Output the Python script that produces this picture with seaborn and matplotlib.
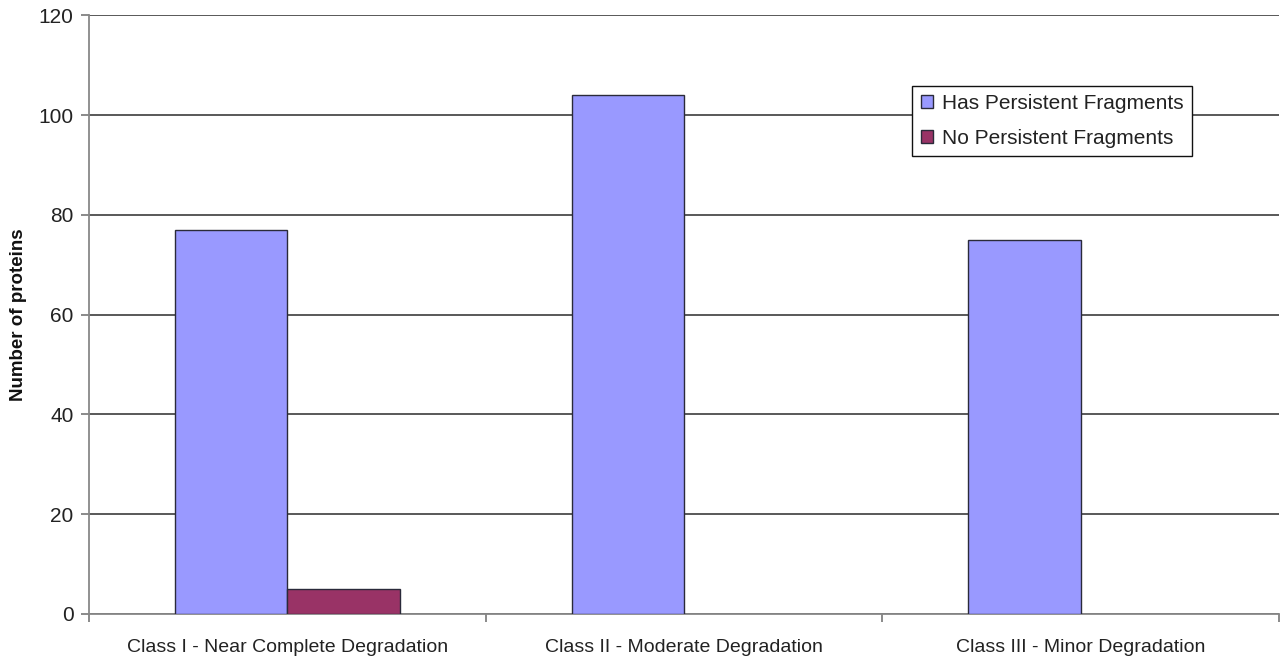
import matplotlib
matplotlib.use("Agg")
import matplotlib.pyplot as plt
from matplotlib.patches import Patch
import seaborn as sns
import pandas as pd

# Protein counts per degradation class
categories = ["Class I - Near Complete Degradation",
              "Class II - Moderate Degradation",
              "Class III - Minor Degradation"]
has_fragments = [77, 104, 75]
no_fragments = [5, 0, 0]
series_names = ["Has Persistent Fragments", "No Persistent Fragments"]
series_colors = ["#9999FF", "#993366"]
y_ticks = [0, 20, 40, 60, 80, 100, 120]

df = pd.DataFrame({
    "category": categories * 2,
    "count": has_fragments + no_fragments,
    "series": [series_names[0]] * 3 + [series_names[1]] * 3,
})

sns.set_style("white")
plt.rcParams["font.family"] = ["Liberation Sans", "DejaVu Sans"]

fig = plt.figure(figsize=(12.8, 6.63), dpi=100)
ax = fig.add_axes([0.0695, 0.074, 0.9297, 0.903])

edge = "#2a2a3a"
sns.barplot(data=df, x="category", y="count", hue="series",
            order=categories, hue_order=series_names,
            palette=series_colors, width=0.567,
            edgecolor=edge, linewidth=1.0, saturation=1,
            errorbar=None, ax=ax, zorder=3, legend=False)

# hide empty bars so no outline sits on the baseline
for p in ax.patches:
    if p.get_height() == 0:
        p.set_visible(False)

ax.set_ylim(0, 120)
ax.set_xlim(-0.5, 2.5)
ax.set_yticks(y_ticks)
ax.yaxis.grid(True, color="#2b2b2b", linewidth=1.1, zorder=0)
ax.set_axisbelow(True)

for s in ["top", "right"]:
    ax.spines[s].set_visible(False)
ax.spines["left"].set_color("#888888")
ax.spines["left"].set_linewidth(1.3)
ax.spines["bottom"].set_color("#888888")
ax.spines["bottom"].set_linewidth(1.3)

ax.tick_params(axis="y", which="major", length=6, width=1.2, color="#777777",
               labelsize=15, labelcolor="#222222", pad=5, left=True)
ax.tick_params(axis="x", which="major", length=0, labelsize=14,
               labelcolor="#222222", pad=18)
ax.set_xticks([-0.5, 0.5, 1.5, 2.5], minor=True)
ax.tick_params(axis="x", which="minor", length=6, width=1.2, color="#777777",
               direction="out", bottom=True)

ax.set_xlabel("")
ax.set_ylabel("Number of proteins", fontsize=13.5, fontweight="bold",
              color="#111111", labelpad=8)

handles = [Patch(facecolor=c, edgecolor=edge, linewidth=1.0) for c in series_colors]
leg = ax.legend(handles, series_names, loc="upper left",
                bbox_to_anchor=(0.692, 0.882),
                fontsize=15, frameon=True, fancybox=False,
                edgecolor="#111111", framealpha=1, borderpad=0.4,
                handlelength=0.6, handleheight=0.6, handletextpad=0.4,
                labelspacing=0.75, borderaxespad=0)
leg.get_frame().set_linewidth(1.0)
for t in leg.get_texts():
    t.set_color("#222222")

fig.savefig("out.png", dpi=100, facecolor="white")
